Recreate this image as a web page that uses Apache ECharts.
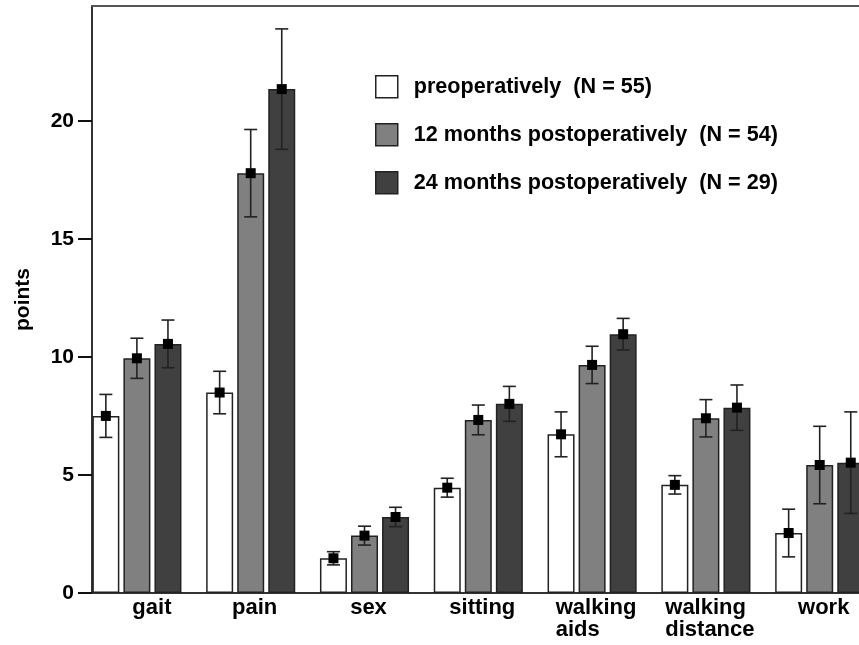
<!DOCTYPE html>
<html>
<head>
<meta charset="utf-8">
<script src="https://cdn.jsdelivr.net/npm/echarts@6/dist/echarts.min.js"></script>
<style>html,body{margin:0;padding:0;background:#fff;}#c{width:859px;height:645px;}</style>
</head>
<body>
<div id="c"></div>
<script>
// ---- data ----
const categories = ['gait', 'pain', 'sex', 'sitting', 'walking\naids', 'walking\ndistance', 'work'];
const seriesNames = ['preoperatively  (N = 55)', '12 months postoperatively  (N = 54)', '24 months postoperatively  (N = 29)'];
const preMean = [7.50, 8.49, 1.47, 4.46, 6.72, 4.58, 2.54];
const preErr  = [0.91, 0.90, 0.28, 0.40, 0.95, 0.39, 1.01];
const m12Mean = [9.94, 17.78, 2.43, 7.33, 9.66, 7.40, 5.42];
const m12Err  = [0.85, 1.85, 0.40, 0.63, 0.79, 0.79, 1.64];
const m24Mean = [10.55, 21.34, 3.22, 8.01, 10.96, 7.85, 5.52];
const m24Err  = [1.01, 2.55, 0.41, 0.74, 0.67, 0.96, 2.15];
const yTicks = [0, 5, 10, 15, 20];
const yName = 'points';

// ---- styling ----
const FONT = '"Liberation Sans", Arial, Helvetica, sans-serif';
const fills = ['#ffffff', '#808080', '#404040'];
const edge = '#222222';
const BAR_W = 27, BAR_GAP = 0.15;
const Y_MAX = 24.86;
const labelPad = {'gait': 30};

const means = [preMean, m12Mean, m24Mean];
const errs = [preErr, m12Err, m24Err];

const chart = echarts.init(document.getElementById('c'), null, {renderer: 'canvas'});

const barSeries = seriesNames.map((n, k) => ({
  name: n, type: 'bar', xAxisIndex: 0, yAxisIndex: 0,
  data: means[k], barWidth: BAR_W, barGap: (BAR_GAP * 100) + '%',
  itemStyle: {color: fills[k], borderColor: edge, borderWidth: 1.5},
  emphasis: {disabled: true}, z: 2
}));

const errSeries = seriesNames.map((n, k) => ({
  name: 'err' + k, type: 'custom', xAxisIndex: 0, yAxisIndex: 0, z: 5,
  data: means[k].map((m, i) => [i, m, errs[k][i]]),
  renderItem: function (params, api) {
    const i = api.value(0), m = api.value(1), e = api.value(2);
    const off = (k - 1) * BAR_W * (1 + BAR_GAP);
    const c = api.coord([i, m]);
    const hi = api.coord([i, m + e]);
    const lo = api.coord([i, m - e]);
    const x = c[0] + off;
    const cap = 6.5, sq = 5;
    const ls = {stroke: edge, lineWidth: 1.6, fill: null};
    return {type: 'group', children: [
      {type: 'line', shape: {x1: x, y1: hi[1], x2: x, y2: lo[1]}, style: ls},
      {type: 'line', shape: {x1: x - cap, y1: hi[1], x2: x + cap, y2: hi[1]}, style: ls},
      {type: 'line', shape: {x1: x - cap, y1: lo[1], x2: x + cap, y2: lo[1]}, style: ls},
      {type: 'rect', shape: {x: x - sq, y: c[1] - sq, width: 2 * sq, height: 2 * sq}, style: {fill: '#000'}}
    ]};
  }
}));

const option = {
  animation: false,
  backgroundColor: '#ffffff',
  textStyle: {fontFamily: FONT},
  grid: [
    {left: 80, width: 796.6, top: 6, bottom: 52, outerBoundsMode: 'none', containLabel: false},
    {left: 92, width: 784.6, top: 6, bottom: 52, outerBoundsMode: 'none', containLabel: false}
  ],
  legend: {
    data: seriesNames, orient: 'vertical', left: 370, top: 70,
    itemWidth: 22, itemHeight: 22, itemGap: 24.5, icon: 'rect',
    selectedMode: false,
    itemStyle: {borderColor: edge, borderWidth: 1.5},
    textStyle: {fontFamily: FONT, fontSize: 21.6, lineHeight: 22, fontWeight: 'bold', color: '#000', padding: [0, 0, 0, 11]}
  },
  xAxis: [
    {
      type: 'category', gridIndex: 0,
      data: categories.map(c => ({value: c, textStyle: {padding: [0, 0, 0, labelPad[c] || 8]}})),
      axisLine: {lineStyle: {color: '#333', width: 2}},
      axisTick: {show: false},
      axisLabel: {
        interval: 0, margin: 4, color: '#000', fontFamily: FONT, fontSize: 22, fontWeight: 'bold', lineHeight: 22,
        formatter: function (v) { return v.split('\n').map(s => '{l|' + s + '}').join('\n'); },
        rich: {l: {align: 'left', fontFamily: FONT, fontSize: 22, fontWeight: 'bold', lineHeight: 22, color: '#000'}}
      },
      splitLine: {show: false}
    },
    {
      type: 'value', gridIndex: 1, position: 'top', min: 0, max: 1,
      axisLine: {show: true, onZero: false, lineStyle: {color: '#555', width: 2}},
      axisTick: {show: false}, axisLabel: {show: false}, splitLine: {show: false}
    }
  ],
  yAxis: [
    {type: 'value', gridIndex: 0, min: 0, max: Y_MAX, show: false, splitLine: {show: false}},
    {
      type: 'value', gridIndex: 1, min: 0, max: Y_MAX, position: 'left',
      name: yName, nameLocation: 'middle', nameGap: 58, nameRotate: 90,
      nameTextStyle: {fontFamily: FONT, fontSize: 21, fontWeight: 'bold', color: '#000'},
      axisLine: {show: true, lineStyle: {color: '#333', width: 2}},
      axisTick: {show: true, length: 14, lineStyle: {color: '#111', width: 2}, customValues: yTicks},
      axisLabel: {customValues: yTicks, margin: 18, color: '#000', fontFamily: FONT, fontSize: 21, fontWeight: 'bold'},
      splitLine: {show: false}
    }
  ],
  series: barSeries.concat(errSeries)
};
chart.setOption(option);
</script>
</body>
</html>
